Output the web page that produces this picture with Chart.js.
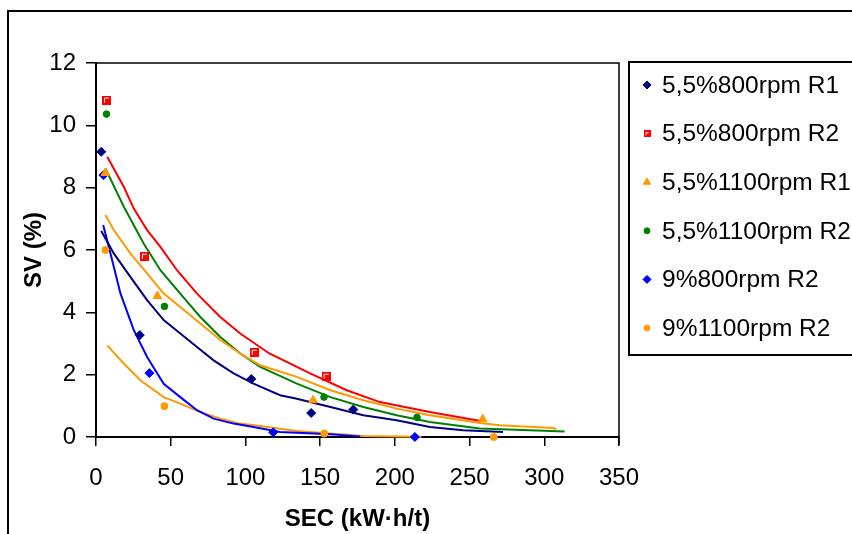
<!DOCTYPE html>
<html><head><meta charset="utf-8">
<script src="https://cdn.jsdelivr.net/npm/chart.js@4/dist/chart.umd.min.js"></script>
<style>html,body{margin:0;padding:0;background:#fff}</style>
</head><body>
<canvas id="c" width="852" height="534"></canvas>
<script>
// ---- data ----
const seriesNames = ["5,5%800rpm R1","5,5%800rpm R2","5,5%1100rpm R1","5,5%1100rpm R2","9%800rpm R2","9%1100rpm R2"];
const xTicks = [0,50,100,150,200,250,300,350];
const yTicks = [0,2,4,6,8,10,12];
const xTitle = "SEC (kW·h/t)";
const yTitle = "SV (%)";

// measured points
const s1X=[3.5,29.3,103.9,144.0,172.2], s1Y=[9.15,3.27,1.86,0.77,0.88];
const s2X=[7.0,32.4,105.9,154.0],       s2Y=[10.81,5.80,2.72,1.95];
const s3X=[6.3,41.1,145.3,258.8],       s3Y=[8.47,4.52,1.18,0.57];
const s4X=[7.0,45.8,152.6,214.8],       s4Y=[10.36,4.19,1.28,0.63];
const s5X=[5.0,35.7,118.6,213.4],       s5Y=[8.40,2.05,0.15,0.00];
const s6X=[6.3,45.8,152.8,266.2],       s6Y=[6.00,0.99,0.11,0.00];

// fitted curves
const f1X=[3.5,11.9,23.0,34.2,45.3,56.4,67.6,78.7,92.1,105.4,123.2,134.4,156.9,178.9,201.2,223.4,245.7,272.4];
const f1Y=[6.61,5.89,5.14,4.39,3.75,3.32,2.89,2.46,2.04,1.71,1.34,1.23,0.96,0.70,0.54,0.32,0.22,0.16];
const f2X=[7.5,18.6,25.3,34.2,43.1,54.2,67.6,83.2,96.5,116.0,143.3,167.8,190.0,223.4,254.6,257.5];
const f2Y=[8.99,8.03,7.33,6.64,6.10,5.35,4.60,3.85,3.32,2.68,2.04,1.50,1.12,0.80,0.54,0.52];
const f3X=[6.3,11.9,23.0,34.2,45.3,56.4,69.8,83.2,96.5,109.9,134.4,156.9,178.9,201.2,223.4,256.8,270.2,305.8,308.0];
const f3Y=[7.12,6.64,5.89,5.25,4.60,4.17,3.64,3.11,2.68,2.30,1.93,1.50,1.18,0.91,0.70,0.45,0.38,0.29,0.25];
const f4X=[6.3,18.6,31.9,43.1,56.4,69.8,83.2,96.5,109.9,134.4,156.9,178.9,201.2,223.4,256.8,290.2,313.6];
const f4Y=[8.62,7.39,6.21,5.35,4.60,3.85,3.21,2.68,2.25,1.71,1.28,0.96,0.70,0.48,0.27,0.22,0.18];
const f5X=[4.8,9.7,16.4,25.3,34.2,45.3,56.4,67.6,78.7,92.1,105.4,123.2,157.0,176.7];
const f5Y=[6.80,5.89,4.60,3.43,2.57,1.71,1.28,0.86,0.59,0.43,0.32,0.16,0.09,0.02];
const f6X=[7.5,18.6,29.7,45.3,56.4,69.8,83.2,96.5,109.9,134.4,156.9,178.9,217.8];
const f6Y=[2.94,2.36,1.82,1.28,1.07,0.80,0.59,0.43,0.35,0.19,0.11,0.03,0.01];

// ---- styling ----
const F = "'Liberation Sans', Arial, sans-serif";
const NAVY='#000080', RED='#FF0000', ORANGE='#FF9900', GREEN='#008000', BLUE='#0000FF';

function squareIcon(size){
  const c=document.createElement('canvas'); c.width=size; c.height=size;
  const g=c.getContext('2d');
  g.fillStyle=RED; g.fillRect(0,0,size,size);
  g.strokeStyle='#fff'; g.lineWidth=1;
  g.beginPath(); g.moveTo(2.5,size-2); g.lineTo(2.5,2.5); g.lineTo(size-2,2.5); g.stroke();
  return c;
}
const sqBig = squareIcon(9), sqSmall = squareIcon(7);

const zip=(xs,ys)=>xs.map((x,i)=>({x,y:ys[i]}));
const markerDefs=[
  {x:s1X,y:s1Y,color:NAVY,style:'rectRot',r:4.5,lr:4},
  {x:s2X,y:s2Y,color:RED,style:sqBig,r:4.5,lr:4,legendStyle:sqSmall},
  {x:s3X,y:s3Y,color:ORANGE,style:'triangle',r:5,lr:4.2},
  {x:s4X,y:s4Y,color:GREEN,style:'circle',r:3.3,lr:3},
  {x:s5X,y:s5Y,color:BLUE,style:'rectRot',r:4.5,lr:4},
  {x:s6X,y:s6Y,color:ORANGE,style:'circle',r:3.5,lr:3},
];
const fitDefs=[[f1X,f1Y,NAVY],[f2X,f2Y,RED],[f3X,f3Y,ORANGE],[f4X,f4Y,GREEN],[f5X,f5Y,BLUE],[f6X,f6Y,ORANGE]];

const datasets=[];
fitDefs.forEach(([xs,ys,c],i)=>datasets.push({
  type:'line', label:'fit'+i, data:zip(xs,ys), borderColor:c, borderWidth:2,
  pointRadius:0, tension:0, fill:false, order:2, clip:false
}));
markerDefs.forEach((m,i)=>datasets.push({
  type:'scatter', label:seriesNames[i], data:zip(m.x,m.y), showLine:false,
  pointStyle:m.style, pointRadius:m.r, backgroundColor:m.color, borderColor:m.color,
  borderWidth:typeof m.style==='string'?1:0, order:1, clip:false
}));

const framePlugin={
  id:'frame',
  beforeDraw(chart){
    const c=chart.ctx; c.save();
    c.fillStyle='#fff'; c.fillRect(0,0,chart.width,chart.height);
    c.restore();
  },
  afterDraw(chart){
    const c=chart.ctx, a=chart.chartArea; c.save();
    c.strokeStyle='#000';
    c.lineWidth=2; c.strokeRect(8,11,1200,1000);
    c.lineWidth=1.5;
    c.beginPath(); c.moveTo(a.left,a.top); c.lineTo(a.right,a.top); c.lineTo(a.right,a.bottom+8); c.stroke();
    // legend
    c.lineWidth=2; c.strokeRect(629,62,400,293);
    c.font='24.5px '+F; c.textBaseline='middle'; c.textAlign='left';
    markerDefs.forEach((m,i)=>{
      const y=85+i*48.6;
      c.fillStyle=m.color; c.strokeStyle=m.color; c.lineWidth=1;
      Chart.helpers.drawPoint(c,{pointStyle:m.legendStyle||m.style,radius:m.lr,rotation:0,borderWidth:1},647,y);
      c.fillStyle='#000';
      c.fillText(seriesNames[i],662,y+1);
    });
    c.restore();
  }
};

new Chart(document.getElementById('c'),{
  type:'scatter',
  data:{datasets},
  options:{
    responsive:false, animation:false, devicePixelRatio:1,
    layout:{padding:{left:0,top:63,right:233,bottom:0}},
    plugins:{legend:{display:false},tooltip:{enabled:false}},
    scales:{
      x:{type:'linear',min:0,max:350,
        afterBuildTicks:s=>{s.ticks=xTicks.map(v=>({value:v}));},
        afterFit:s=>{s.height=97;},
        grid:{drawOnChartArea:false,drawTicks:true,tickLength:9,color:'#000',lineWidth:1.5},
        border:{color:'#000',width:2},
        ticks:{font:{family:F,size:24},color:'#000',padding:18,maxRotation:0},
        title:{display:true,text:xTitle,font:{family:F,size:24,weight:'bold'},color:'#000',padding:{top:0,bottom:0}}
      },
      y:{type:'linear',min:0,max:12,
        afterBuildTicks:s=>{s.ticks=yTicks.map(v=>({value:v}));},
        afterFit:s=>{s.width=96;},
        grid:{drawOnChartArea:false,drawTicks:true,tickLength:10,color:'#000',lineWidth:1.5},
        border:{color:'#000',width:2},
        ticks:{font:{family:F,size:24},color:'#000',padding:10},
        title:{display:true,text:yTitle,font:{family:F,size:24,weight:'bold'},color:'#000',padding:{top:20,bottom:0}}
      }
    }
  },
  plugins:[framePlugin]
});
</script>
</body></html>
